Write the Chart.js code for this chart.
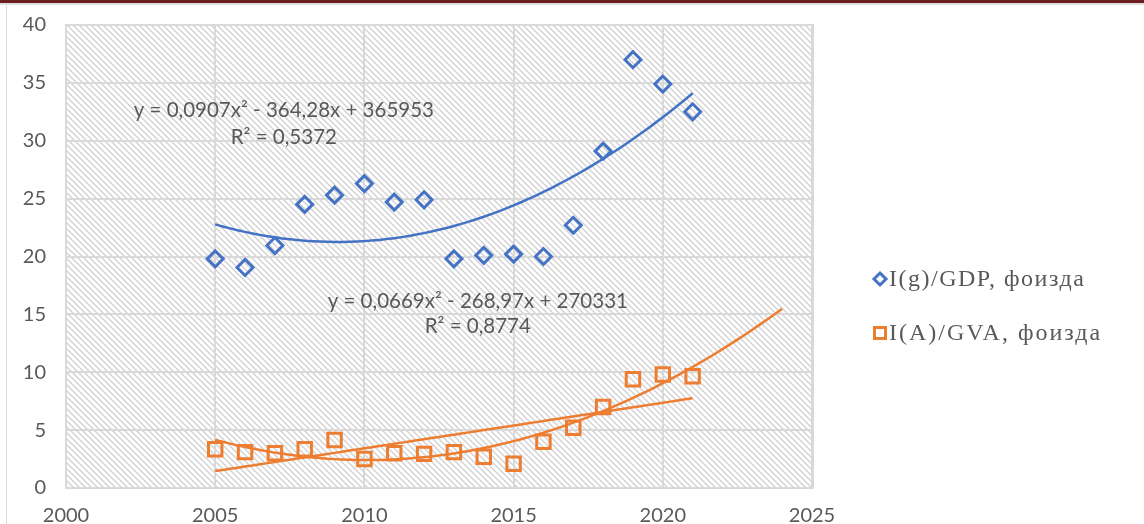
<!DOCTYPE html>
<html>
<head>
<meta charset="utf-8">
<script src="https://cdn.jsdelivr.net/npm/chart.js@4.4.1/dist/chart.umd.min.js"></script>
<style>
  html, body { margin: 0; padding: 0; background: #fff; }
  #wrap { position: relative; width: 1144px; height: 524px; overflow: hidden; }
  #topbar { position: absolute; left: 0; top: 0; width: 1144px; height: 3px; background: #6b1f22; border-bottom: 2px solid #dedede; }
  #leftline { position: absolute; left: 6px; top: 5px; width: 1px; height: 519px; background: #dcdcdc; }
  canvas { position: absolute; left: 0; top: 0; }
</style>
</head>
<body>
<div id="wrap">
  <div id="topbar"></div>
  <div id="leftline"></div>
  <canvas id="chart" width="1144" height="524"></canvas>
</div>
<script>
/* Данные */
const years = [2005, 2006, 2007, 2008, 2009, 2010, 2011, 2012, 2013, 2014, 2015, 2016, 2017, 2018, 2019, 2020, 2021];
const gdpShare = [19.8, 19.05, 20.95, 24.5, 25.3, 26.3, 24.7, 24.9, 19.8, 20.1, 20.2, 20.0, 22.7, 29.1, 37.0, 34.9, 32.5];
const gvaShare = [3.35, 3.1, 3.0, 3.35, 4.15, 2.5, 3.0, 2.95, 3.1, 2.7, 2.1, 4.0, 5.2, 7.0, 9.4, 9.8, 9.65];
const xTicks = [2000, 2005, 2010, 2015, 2020, 2025];
const yTicks = [0, 5, 10, 15, 20, 25, 30, 35, 40];
const seriesNames = ['I(g)/GDP, фоизда', 'I(A)/GVA, фоизда'];
const gdpEquation = ['y = 0,0907x² - 364,28x + 365953', 'R² = 0,5372'];
const gvaEquation = ['y = 0,0669x² - 268,97x + 270331', 'R² = 0,8774'];

const blue = '#4472c4';
const orange = '#ed7d31';

/* Тренд: метод наименьших квадратов (как в Excel) */
function polyFit(xs, ys, deg) {
    const n = deg + 1;
    const A = [];
    for (let i = 0; i < n; i++) {
        A.push(new Array(n + 1).fill(0));
    }
    xs.forEach((x0, k) => {
        const x = x0 - 2000;
        for (let i = 0; i < n; i++) {
            for (let j = 0; j < n; j++) A[i][j] += Math.pow(x, i + j);
            A[i][n] += ys[k] * Math.pow(x, i);
        }
    });
    for (let i = 0; i < n; i++) {
        let p = i;
        for (let r = i + 1; r < n; r++) if (Math.abs(A[r][i]) > Math.abs(A[p][i])) p = r;
        [A[i], A[p]] = [A[p], A[i]];
        for (let r = 0; r < n; r++) {
            if (r === i) continue;
            const f = A[r][i] / A[i][i];
            for (let c = i; c <= n; c++) A[r][c] -= f * A[i][c];
        }
    }
    const coef = A.map((row, i) => row[n] / row[i]);
    return x => coef.reduce((s, c, i) => s + c * Math.pow(x - 2000, i), 0);
}

function trendPoints(fn, from, to) {
    const pts = [];
    for (let x = from; x <= to + 1e-9; x += 0.25) pts.push({ x: x, y: fn(x) });
    return pts;
}

const gdpPoly = polyFit(years, gdpShare, 2);
const gvaPoly = polyFit(years, gvaShare, 2);
const gvaLin = polyFit(years, gvaShare, 1);

/* Штриховка фона области построения */
function hatchPattern(ctx) {
    const c = document.createElement('canvas');
    c.width = 6; c.height = 6;
    const p = c.getContext('2d');
    p.fillStyle = '#ffffff';
    p.fillRect(0, 0, 6, 6);
    p.strokeStyle = '#d2d2d2';
    p.lineWidth = 1.4;
    p.beginPath();
    p.moveTo(-1, -1); p.lineTo(7, 7);
    p.moveTo(-4, 2); p.lineTo(4, 10);
    p.moveTo(2, -4); p.lineTo(10, 4);
    p.stroke();
    return ctx.createPattern(c, 'repeat');
}

const hatchPlugin = {
    id: 'hatch',
    beforeDraw(chart) {
        const { ctx, chartArea: a } = chart;
        ctx.save();
        ctx.fillStyle = hatchPattern(ctx);
        ctx.fillRect(a.left, a.top, a.right - a.left, a.bottom - a.top);
        ctx.restore();
    }
};

const labelsPlugin = {
    id: 'labels',
    afterDraw(chart) {
        const { ctx, scales } = chart;
        ctx.save();
        ctx.fillStyle = '#595959';
        ctx.font = '20.5px Lato';
        ctx.textAlign = 'center';
        ctx.textBaseline = 'middle';
        const put = (lines, xv, yv1, yv2) => {
            ctx.fillText(lines[0], scales.x.getPixelForValue(xv), scales.y.getPixelForValue(yv1));
            ctx.fillText(lines[1], scales.x.getPixelForValue(xv), scales.y.getPixelForValue(yv2));
        };
        put(gdpEquation, 2007.3, 32.6, 30.3);
        put(gvaEquation, 2013.8, 16.1, 14.0);

        /* Легенда */
        ctx.font = '24px "Liberation Serif"';
        ctx.textAlign = 'left';
        ctx.fillStyle = '#595959';
        const items = [
            { name: seriesNames[0], color: blue, y: 279, diamond: true, sp: '1.5px' },
            { name: seriesNames[1], color: orange, y: 333, diamond: false, sp: '2px' }
        ];
        items.forEach(it => {
            ctx.strokeStyle = it.color;
            ctx.lineWidth = 3;
            ctx.beginPath();
            if (it.diamond) {
                ctx.moveTo(880, it.y - 6); ctx.lineTo(886, it.y);
                ctx.lineTo(880, it.y + 6); ctx.lineTo(874, it.y); ctx.closePath();
            } else {
                ctx.rect(874.5, it.y - 5.5, 11, 11);
            }
            ctx.stroke();
            ctx.letterSpacing = it.sp;
            ctx.fillText(it.name, 889, it.y + 1);
        });
        ctx.restore();
    }
};

new Chart(document.getElementById('chart'), {
    type: 'scatter',
    data: {
        datasets: [{
            label: seriesNames[0],
            data: years.map((x, i) => ({ x: x, y: gdpShare[i] })),
            pointStyle: 'rectRot',
            pointRadius: 8,
            borderColor: blue,
            backgroundColor: 'rgba(0,0,0,0)',
            pointBorderWidth: 3,
            order: 1
        }, {
            label: seriesNames[1],
            data: years.map((x, i) => ({ x: x, y: gvaShare[i] })),
            pointStyle: 'rect',
            pointRadius: 9.5,
            borderColor: orange,
            backgroundColor: 'rgba(0,0,0,0)',
            pointBorderWidth: 3,
            order: 1
        }, {
            label: 'trend gdp',
            type: 'line',
            data: trendPoints(gdpPoly, 2005, 2021),
            borderColor: blue,
            borderWidth: 2.5,
            pointRadius: 0,
            tension: 0,
            order: 2
        }, {
            label: 'trend gva poly',
            type: 'line',
            data: trendPoints(gvaPoly, 2005, 2024),
            borderColor: orange,
            borderWidth: 2.5,
            pointRadius: 0,
            tension: 0,
            order: 2
        }, {
            label: 'trend gva linear',
            type: 'line',
            data: trendPoints(gvaLin, 2005, 2021),
            borderColor: orange,
            borderWidth: 2.5,
            pointRadius: 0,
            tension: 0,
            order: 2
        }]
    },
    options: {
        responsive: false,
        animation: false,
        layout: { padding: { top: 25, right: 332, left: 0, bottom: 0 } },
        plugins: { legend: { display: false }, tooltip: { enabled: false } },
        scales: {
            x: {
                type: 'linear',
                min: 2000, max: 2025,
                afterBuildTicks: s => { s.ticks = xTicks.map(v => ({ value: v })); },
                afterFit: s => { s.height = 36; s.paddingLeft = 0; s.paddingRight = 0; },
                ticks: { color: '#595959', font: { family: 'Lato', size: 20 }, padding: 16, callback: v => String(v) },
                grid: { color: '#d9d9d9', lineWidth: 2, drawTicks: false },
                border: { color: '#d9d9d9', width: 2 }
            },
            y: {
                min: 0, max: 40,
                afterBuildTicks: s => { s.ticks = yTicks.map(v => ({ value: v })); },
                afterFit: s => { s.width = 66; s.paddingTop = 0; s.paddingBottom = 0; },
                ticks: { color: '#595959', font: { family: 'Lato', size: 20 }, padding: 20 },
                grid: { color: '#d9d9d9', lineWidth: 2, drawTicks: false },
                border: { color: '#d9d9d9', width: 2 }
            },
            y2: {
                position: 'right', min: 0, max: 40, display: true,
                ticks: { display: false }, grid: { display: false },
                border: { color: '#d9d9d9', width: 3 },
                afterFit: s => { s.width = 0; s.paddingTop = 0; s.paddingBottom = 0; }
            }
        }
    },
    plugins: [hatchPlugin, labelsPlugin]
});
</script>
</body>
</html>
